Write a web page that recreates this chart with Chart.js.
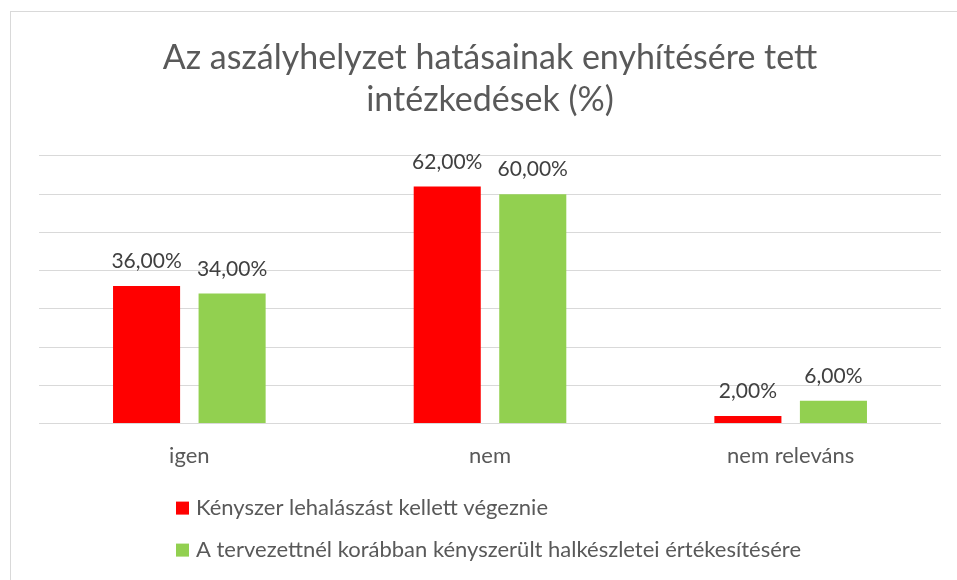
<!DOCTYPE html>
<html>
<head>
<meta charset="utf-8">
<script src="https://cdn.jsdelivr.net/npm/chart.js@4/dist/chart.umd.min.js"></script>
<style>
  html, body { margin: 0; padding: 0; background: #fff; overflow: hidden; }
  #wrap { position: relative; width: 957px; height: 580px; }
  #frame { position: absolute; left: 10px; top: 11px; width: 1000px; height: 700px; border: 1px solid #d9d9d9; box-sizing: border-box; }
  canvas { position: absolute; left: 0; top: 0; }
</style>
</head>
<body>
<div id="wrap">
  <div id="frame"></div>
  <canvas id="c" width="957" height="580"></canvas>
</div>
<script>
const titleLines = ["Az aszályhelyzet hatásainak enyhítésére tett", "intézkedések (%)"];
const categories = ["igen", "nem", "nem releváns"];
const seriesNames = ["Kényszer lehalászást kellett végeznie", "A tervezettnél korábban kényszerült halkészletei értékesítésére"];
const seriesForced = [36, 62, 2];
const seriesEarlySale = [34, 60, 6];
const seriesColors = ["#FF0000", "#92D050"];
const yTicks = [0, 10, 20, 30, 40, 50, 60, 70];

const FONT = "Lato, 'Open Sans', sans-serif";

const valueLabels = {
  id: 'valueLabels',
  afterDatasetsDraw(chart) {
    const ctx = chart.ctx;
    ctx.save();
    ctx.font = "21px " + FONT;
    ctx.fillStyle = "#404040";
    ctx.textAlign = "center";
    ctx.textBaseline = "alphabetic";
    chart.data.datasets.forEach((ds, i) => {
      const meta = chart.getDatasetMeta(i);
      meta.data.forEach((bar, j) => {
        const v = ds.data[j];
        ctx.fillText(v.toFixed(2).replace('.', ',') + '%', bar.x, bar.y - 18);
      });
    });
    ctx.restore();
  }
};

const customLegend = {
  id: 'customLegend',
  afterDraw(chart) {
    const ctx = chart.ctx;
    ctx.save();
    ctx.font = "22px " + FONT;
    ctx.textBaseline = "middle";
    ctx.textAlign = "left";
    const x0 = 176;
    const y0 = chart.chartArea.bottom + 84;
    chart.data.datasets.forEach((ds, i) => {
      const y = y0 + i * 42;
      ctx.fillStyle = ds.backgroundColor;
      ctx.fillRect(x0, y - 6, 13, 13);
      ctx.fillStyle = "#595959";
      ctx.fillText(ds.label, x0 + 20, y);
    });
    ctx.restore();
  }
};

new Chart(document.getElementById('c'), {
  type: 'bar',
  data: {
    labels: categories,
    datasets: [
      { label: seriesNames[0], data: seriesForced, backgroundColor: seriesColors[0] },
      { label: seriesNames[1], data: seriesEarlySale, backgroundColor: seriesColors[1] }
    ]
  },
  options: {
    responsive: false,
    animation: false,
    devicePixelRatio: 1,
    layout: { padding: { left: 39, right: 16, top: 0, bottom: 100 } },
    datasets: { bar: { barPercentage: 0.784, categoryPercentage: 0.569 } },
    plugins: {
      legend: { display: false },
      tooltip: { enabled: false },
      title: {
        display: true,
        text: titleLines,
        color: "#595959",
        font: { family: FONT, size: 34, weight: 'normal', lineHeight: 1.235 },
        padding: { top: 37, bottom: 35 }
      }
    },
    scales: {
      x: {
        grid: { display: false },
        border: { display: false },
        ticks: { color: "#595959", font: { family: FONT, size: 22 }, padding: 11 }
      },
      y: {
        min: yTicks[0],
        max: yTicks[yTicks.length - 1],
        afterBuildTicks(axis) { axis.ticks = yTicks.map(v => ({ value: v })); },
        grid: { color: "#d9d9d9", lineWidth: 1, drawTicks: false },
        border: { display: false },
        ticks: { display: false }
      }
    }
  },
  plugins: [valueLabels, customLegend]
});
</script>
</body>
</html>
